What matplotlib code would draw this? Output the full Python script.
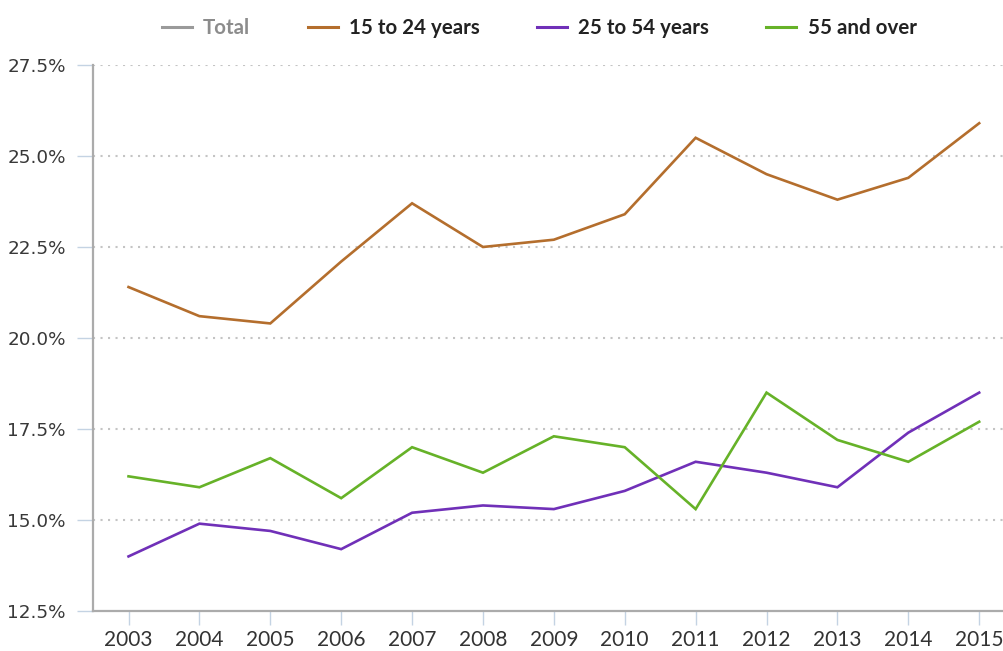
import matplotlib
matplotlib.use("Agg")
import matplotlib.pyplot as plt
from matplotlib.lines import Line2D
from matplotlib.ticker import FuncFormatter

# --- data ---
years = [2003, 2004, 2005, 2006, 2007, 2008, 2009, 2010, 2011, 2012, 2013, 2014, 2015]
age_15_24 = [21.4, 20.6, 20.4, 22.1, 23.7, 22.5, 22.7, 23.4, 25.5, 24.5, 23.8, 24.4, 25.9]
age_25_54 = [14.0, 14.9, 14.7, 14.2, 15.2, 15.4, 15.3, 15.8, 16.6, 16.3, 15.9, 17.4, 18.5]
age_55_up = [16.2, 15.9, 16.7, 15.6, 17.0, 16.3, 17.3, 17.0, 15.3, 18.5, 17.2, 16.6, 17.7]
y_ticks = [12.5, 15.0, 17.5, 20.0, 22.5, 25.0, 27.5]

c_orange = "#b46e2d"
c_purple = "#7030b8"
c_green = "#66b228"
c_total = "#9a9a9a"

fig = plt.figure(figsize=(10.04, 6.51), dpi=100)
ax = fig.add_axes([0.0927, 0.0614, 0.9073, 0.8388])

ax.plot(years, age_15_24, color=c_orange, lw=1.9, solid_joinstyle="miter")
ax.plot(years, age_25_54, color=c_purple, lw=1.9, solid_joinstyle="miter")
ax.plot(years, age_55_up, color=c_green, lw=1.9, solid_joinstyle="miter")

ax.set_xlim(2002.5, 2015.35)
ax.set_ylim(12.5, 27.5)
ax.set_xticks(years)
ax.set_yticks(y_ticks)
ax.yaxis.set_major_formatter(FuncFormatter(lambda v, p: f"{v:.1f}%"))

# dotted horizontal grid
for v in y_ticks[1:]:
    ax.axhline(v, color="#c4c4c4", lw=1.5, ls=(0, (1, 2.6)), zorder=0)

for s in ["top", "right"]:
    ax.spines[s].set_visible(False)
for s in ["left", "bottom"]:
    ax.spines[s].set_color("#ababab")
    ax.spines[s].set_linewidth(1.6)

ax.tick_params(axis="y", length=11.5, width=1, color="#c4d3e3", pad=8,
               labelsize=13.2, labelcolor="#383838")
ax.tick_params(axis="x", length=10, width=1, color="#c4d3e3", pad=4,
               labelsize=15, labelcolor="#333333")
for lab in ax.get_xticklabels():
    lab.set_family("Lato")

handles = [
    Line2D([], [], color=c_total, lw=2.2),
    Line2D([], [], color=c_orange, lw=2.2),
    Line2D([], [], color=c_purple, lw=2.2),
    Line2D([], [], color=c_green, lw=2.2),
]
labels = ["Total", "15 to 24 years", "25 to 54 years", "55 and over"]
leg = fig.legend(handles, labels, loc="center", bbox_to_anchor=(0.537, 0.957),
                 ncol=4, frameon=False, handlelength=1.46, handletextpad=0.54,
                 columnspacing=2.8, prop={"family": "Lato", "weight": "bold", "size": 14.8})
for i, t in enumerate(leg.get_texts()):
    t.set_color("#8c8c8c" if i == 0 else "#222222")

fig.savefig("out.png", dpi=100)
